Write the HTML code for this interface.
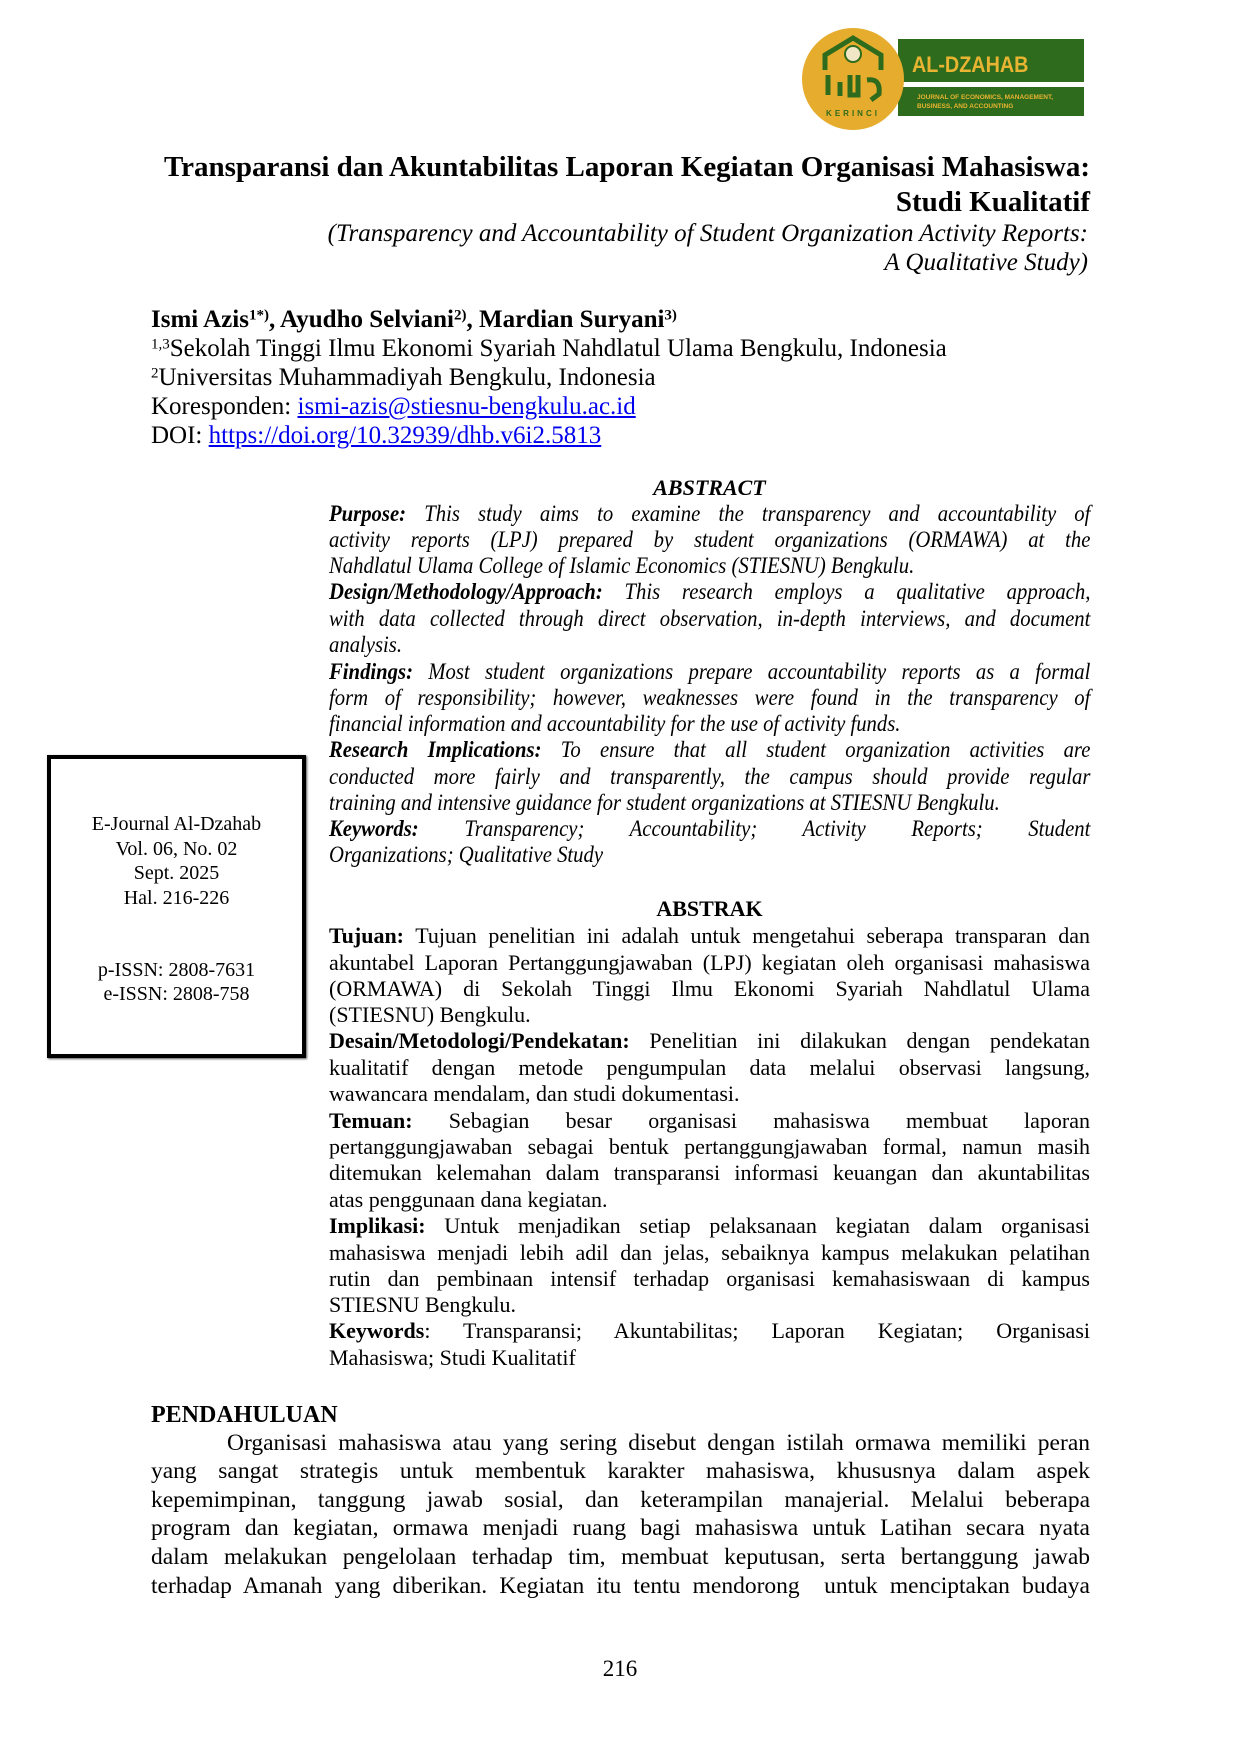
<!DOCTYPE html>
<html><head><meta charset="utf-8"><style>
body{margin:0;background:#fff}
#p{position:relative;width:1240px;height:1754px;overflow:hidden;background:#fff;font-family:"Liberation Serif",serif;color:#000}
.l{position:absolute;white-space:nowrap;line-height:1}
.j{text-align:justify;text-align-last:justify}
.r{text-align:right}
.ab{left:329px;width:761px;font-size:22px}
.en{left:329px;width:846px;font-size:23px;font-style:italic;transform:scaleX(0.9);transform-origin:0 0}
.bd{left:151px;width:939px;font-size:23.5px}
a{color:#0000ee;text-decoration:underline}
.box{position:absolute;left:47px;top:755px;width:251px;height:295px;border:4px solid #000;box-shadow:1px 1px 2px #555}
.bx{position:absolute;left:47px;width:259px;text-align:center;font-size:20px;line-height:1}
sup{font-size:0.6em;vertical-align:0.5em;line-height:0}
</style></head><body><div id="p">
<svg style="position:absolute;left:795px;top:20px" width="300" height="120">
<rect x="103" y="19" width="186" height="43" fill="#2f6b1d"/>
<rect x="103" y="67" width="186" height="29" fill="#2f6b1d"/>
<text x="130" y="52" font-family="Liberation Sans,sans-serif" font-weight="bold" font-size="22" fill="#e8b431" transform="scale(0.9,1)" >AL-DZAHAB</text>
<text x="122" y="79" font-family="Liberation Sans,sans-serif" font-weight="bold" font-size="6.5" fill="#e8b431">JOURNAL OF ECONOMICS, MANAGEMENT,</text>
<text x="122" y="88" font-family="Liberation Sans,sans-serif" font-weight="bold" font-size="6.5" fill="#e8b431">BUSINESS, AND ACCOUNTING</text>
<circle cx="58" cy="59" r="51" fill="#e6ac2d"/>
<path d="M30 50 L30 35 L58 18 L86 35 L86 50" fill="none" stroke="#2f6b1d" stroke-width="5"/>
<circle cx="58" cy="34" r="8" fill="#f1e7c6" stroke="#2f6b1d" stroke-width="2"/>
<path d="M33 55 v20 M45 62 v14 M55 55 v20 h8 v-20 M72 60 q14 -2 12 14 l-8 6" fill="none" stroke="#2f6b1d" stroke-width="5"/>
<text x="58" y="96" text-anchor="middle" font-family="Liberation Sans,sans-serif" font-weight="bold" font-size="8" letter-spacing="3" fill="#2f6b1d">KERINCI</text>
</svg>

<div class="l r" style="left:90px;width:1000px;top:153px;font-size:29px;font-weight:bold">Transparansi dan Akuntabilitas Laporan Kegiatan Organisasi Mahasiswa:</div>
<div class="l r" style="left:90px;width:1000px;top:188px;font-size:29px;font-weight:bold">Studi Kualitatif</div>
<div class="l r" style="left:90px;width:998px;top:221px;font-size:25px;font-style:italic">(Transparency and Accountability of Student Organization Activity Reports:</div>
<div class="l r" style="left:90px;width:998px;top:250px;font-size:25px;font-style:italic">A Qualitative Study)</div>

<div class="l" style="left:151px;top:307px;font-size:25px;font-weight:bold">Ismi Azis<sup>1*)</sup>, Ayudho Selviani<sup>2)</sup>, Mardian Suryani<sup>3)</sup></div>
<div class="l" style="left:151px;top:336px;font-size:25px"><sup>1,3</sup>Sekolah Tinggi Ilmu Ekonomi Syariah Nahdlatul Ulama Bengkulu, Indonesia</div>
<div class="l" style="left:151px;top:365px;font-size:25px"><sup>2</sup>Universitas Muhammadiyah Bengkulu, Indonesia</div>
<div class="l" style="left:151px;top:394px;font-size:25px">Koresponden: <a>ismi-azis@stiesnu-bengkulu.ac.id</a></div>
<div class="l" style="left:151px;top:423px;font-size:25px">DOI: <a>https://doi.org/10.32939/dhb.v6i2.5813</a></div>

<div class="l" style="left:329px;width:761px;text-align:center;top:477px;font-size:22px;font-style:italic;font-weight:bold">ABSTRACT</div>
<div class="l en j" style="top:502px"><b>Purpose:</b> This study aims to examine the transparency and accountability of</div>
<div class="l en j" style="top:528px">activity reports (LPJ) prepared by student organizations (ORMAWA) at the</div>
<div class="l en" style="top:554px">Nahdlatul Ulama College of Islamic Economics (STIESNU) Bengkulu.</div>
<div class="l en j" style="top:580px"><b>Design/Methodology/Approach:</b> This research employs a qualitative approach,</div>
<div class="l en j" style="top:607px">with data collected through direct observation, in-depth interviews, and document</div>
<div class="l en" style="top:633px">analysis.</div>
<div class="l en j" style="top:660px"><b>Findings:</b> Most student organizations prepare accountability reports as a formal</div>
<div class="l en j" style="top:686px">form of responsibility; however, weaknesses were found in the transparency of</div>
<div class="l en" style="top:712px">financial information and accountability for the use of activity funds.</div>
<div class="l en j" style="top:738px"><b>Research Implications:</b> To ensure that all student organization activities are</div>
<div class="l en j" style="top:765px">conducted more fairly and transparently, the campus should provide regular</div>
<div class="l en" style="top:791px">training and intensive guidance for student organizations at STIESNU Bengkulu.</div>
<div class="l en j" style="top:817px"><b>Keywords:</b> Transparency; Accountability; Activity Reports; Student</div>
<div class="l en" style="top:843px">Organizations; Qualitative Study</div>

<div class="box"></div>
<div class="bx" style="top:814px">E-Journal Al-Dzahab</div>
<div class="bx" style="top:839px">Vol. 06, No. 02</div>
<div class="bx" style="top:863px">Sept. 2025</div>
<div class="bx" style="top:888px">Hal. 216-226</div>
<div class="bx" style="top:960px">p-ISSN: 2808-7631</div>
<div class="bx" style="top:984px">e-ISSN: 2808-758</div>

<div class="l" style="left:329px;width:761px;text-align:center;top:898px;font-size:22px;font-weight:bold">ABSTRAK</div>
<div class="l ab j" style="top:925px"><b>Tujuan:</b> Tujuan penelitian ini adalah untuk mengetahui seberapa transparan dan</div>
<div class="l ab j" style="top:952px">akuntabel Laporan Pertanggungjawaban (LPJ) kegiatan oleh organisasi mahasiswa</div>
<div class="l ab j" style="top:978px">(ORMAWA) di Sekolah Tinggi Ilmu Ekonomi Syariah Nahdlatul Ulama</div>
<div class="l ab" style="top:1004px">(STIESNU) Bengkulu.</div>
<div class="l ab j" style="top:1030px"><b>Desain/Metodologi/Pendekatan:</b> Penelitian ini dilakukan dengan pendekatan</div>
<div class="l ab j" style="top:1057px">kualitatif dengan metode pengumpulan data melalui observasi langsung,</div>
<div class="l ab" style="top:1083px">wawancara mendalam, dan studi dokumentasi.</div>
<div class="l ab j" style="top:1110px"><b>Temuan:</b> Sebagian besar organisasi mahasiswa membuat laporan</div>
<div class="l ab j" style="top:1136px">pertanggungjawaban sebagai bentuk pertanggungjawaban formal, namun masih</div>
<div class="l ab j" style="top:1162px">ditemukan kelemahan dalam transparansi informasi keuangan dan akuntabilitas</div>
<div class="l ab" style="top:1189px">atas penggunaan dana kegiatan.</div>
<div class="l ab j" style="top:1215px"><b>Implikasi:</b> Untuk menjadikan setiap pelaksanaan kegiatan dalam organisasi</div>
<div class="l ab j" style="top:1242px">mahasiswa menjadi lebih adil dan jelas, sebaiknya kampus melakukan pelatihan</div>
<div class="l ab j" style="top:1268px">rutin dan pembinaan intensif terhadap organisasi kemahasiswaan di kampus</div>
<div class="l ab" style="top:1294px">STIESNU Bengkulu.</div>
<div class="l ab j" style="top:1320px"><b>Keywords</b>: Transparansi; Akuntabilitas; Laporan Kegiatan; Organisasi</div>
<div class="l ab" style="top:1347px">Mahasiswa; Studi Kualitatif</div>

<div class="l" style="left:151px;top:1403px;font-size:24px;font-weight:bold">PENDAHULUAN</div>
<div class="l bd j" style="left:227px;width:863px;top:1432px">Organisasi mahasiswa atau yang sering disebut dengan istilah ormawa memiliki peran</div>
<div class="l bd j" style="top:1460px">yang sangat strategis untuk membentuk karakter mahasiswa, khususnya dalam aspek</div>
<div class="l bd j" style="top:1489px">kepemimpinan, tanggung jawab sosial, dan keterampilan manajerial. Melalui beberapa</div>
<div class="l bd j" style="top:1517px">program dan kegiatan, ormawa menjadi ruang bagi mahasiswa untuk Latihan secara nyata</div>
<div class="l bd j" style="top:1546px">dalam melakukan pengelolaan terhadap tim, membuat keputusan, serta bertanggung jawab</div>
<div class="l bd j" style="top:1575px">terhadap Amanah yang diberikan. Kegiatan itu tentu mendorong &nbsp;untuk menciptakan budaya</div>

<div class="l" style="left:0;width:1240px;text-align:center;top:1657px;font-size:23px">216</div>
</div></body></html>
